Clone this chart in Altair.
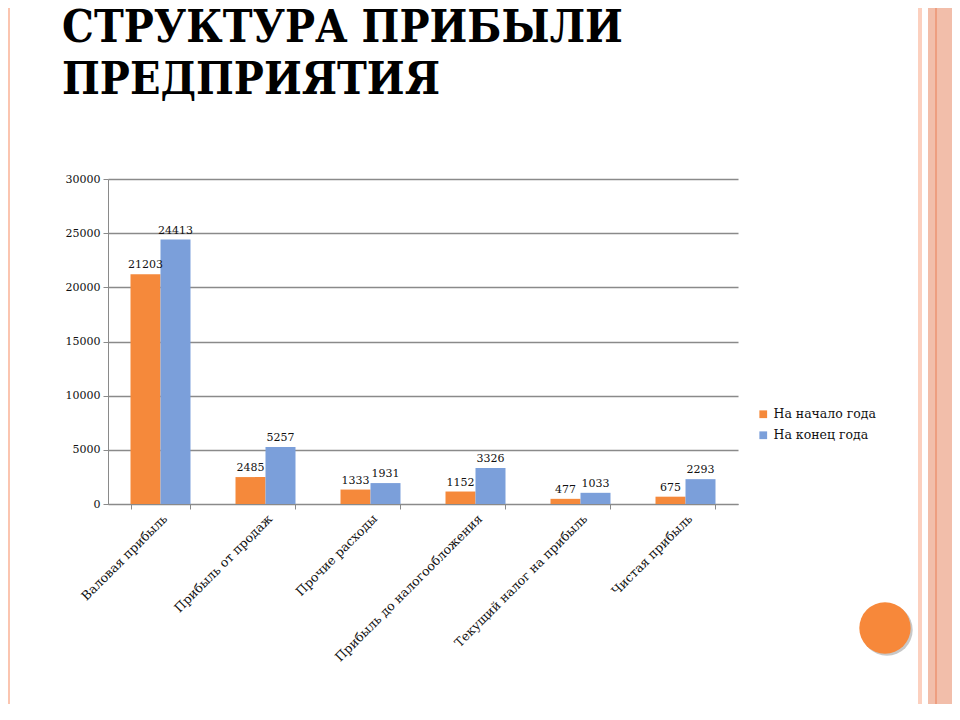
import altair as alt
import pandas as pd

categories = ["Валовая прибыль", "Прибыль от продаж", "Прочие расходы",
              "Прибыль до налогообложения", "Текущий налог на прибыль", "Чистая прибыль"]
series = ["На начало года", "На конец года"]
start_values = [21203, 2485, 1333, 1152, 477, 675]
end_values = [24413, 5257, 1931, 3326, 1033, 2293]
y_ticks = [0, 5000, 10000, 15000, 20000, 25000, 30000]
title_lines = ["СТРУКТУРА ПРИБЫЛИ", "ПРЕДПРИЯТИЯ"]

rows = []
for c, a, b in zip(categories, start_values, end_values):
    rows.append({"cat": c, "series": series[0], "value": a})
    rows.append({"cat": c, "series": series[1], "value": b})
df = pd.DataFrame(rows)

W, H = 630, 325
FONT = "DejaVu Serif"
TITLE_FONT = "DejaVu Serif Condensed, DejaVu Serif"
ORANGE = "#F5893B"
BLUE = "#7B9FDA"

x_enc = alt.X("cat:N", sort=categories, title=None,
              scale=alt.Scale(paddingInner=0.4286, paddingOuter=0.2143),
              axis=alt.Axis(labelAngle=-45, labelFont=FONT, labelFontSize=12.5,
                            labelColor="#111", domainColor="#8a8a8a", tickColor="#8a8a8a",
                            tickBand="extent", tickSize=5, labelPadding=3,
                            labelLimit=300, grid=False))
xoff = alt.XOffset("series:N", sort=series)
y_enc = alt.Y("value:Q", title=None,
              scale=alt.Scale(domain=[0, 30000], nice=False),
              axis=alt.Axis(values=y_ticks, format="d", labelFont=FONT, labelFontSize=11,
                            labelColor="#111", domainColor="#8a8a8a", tickColor="#8a8a8a",
                            gridColor="#8a8a8a", gridWidth=1.3, tickSize=5, labelPadding=3))

bars = alt.Chart(df).mark_bar().encode(
    x=x_enc, xOffset=xoff, y=y_enc,
    color=alt.Color("series:N", sort=series,
                    scale=alt.Scale(domain=series, range=[ORANGE, BLUE]),
                    legend=alt.Legend(title=None, orient="none", legendX=649, legendY=229,
                                      symbolType="square", symbolSize=60,
                                      symbolStrokeWidth=0,
                                      labelFont=FONT, labelFontSize=12.5, labelColor="#111",
                                      rowPadding=8))
)
labels = alt.Chart(df).mark_text(font=FONT, fontSize=11, color="#111", dy=-6,
                                 baseline="alphabetic").encode(
    x=alt.X("cat:N", sort=categories), xOffset=xoff, y="value:Q", text="value:Q")

one = alt.Data(values=[{"k": 1}])
def rect(x1, x2, color, y1=-190, y2=H + 220):
    return alt.Chart(one).mark_rect(color=color).encode(
        x=alt.value(x1), x2=alt.value(x2), y=alt.value(y1), y2=alt.value(y2))

title_marks = []
for i, line in enumerate(title_lines):
    title_marks.append(
        alt.Chart(alt.Data(values=[{"t": line}])).mark_text(
            font=TITLE_FONT, fontSize=44.5, fontWeight="bold", color="#000",
            align="left", baseline="alphabetic").encode(
            x=alt.value(-46), y=alt.value(-137 + 52 * i), text="t:N"))

deco = [
    rect(-103, -98, "#FBC5B0"),
    rect(810, 814, "#FCD0BF"),
    rect(820, 852, "#F2BEAA"),
    rect(827, 829, "#EE9E80"),
    alt.Chart(one).mark_circle(color="#9a9a9a", opacity=0.55, size=2642).encode(
        x=alt.value(779), y=alt.value(451)),
    alt.Chart(one).mark_circle(color="#F7883A", opacity=1, size=2642).encode(
        x=alt.value(777), y=alt.value(449)),
]

chart = alt.layer(*deco, *title_marks, bars, labels).properties(
    width=W, height=H,
    padding={"left": 100, "top": 171, "right": 214, "bottom": 200},
    autosize=alt.AutoSizeParams(type="none"),
    background="white",
).configure_view(stroke=None)

chart.save("out.html", embed_options={"renderer": "svg", "actions": False})
